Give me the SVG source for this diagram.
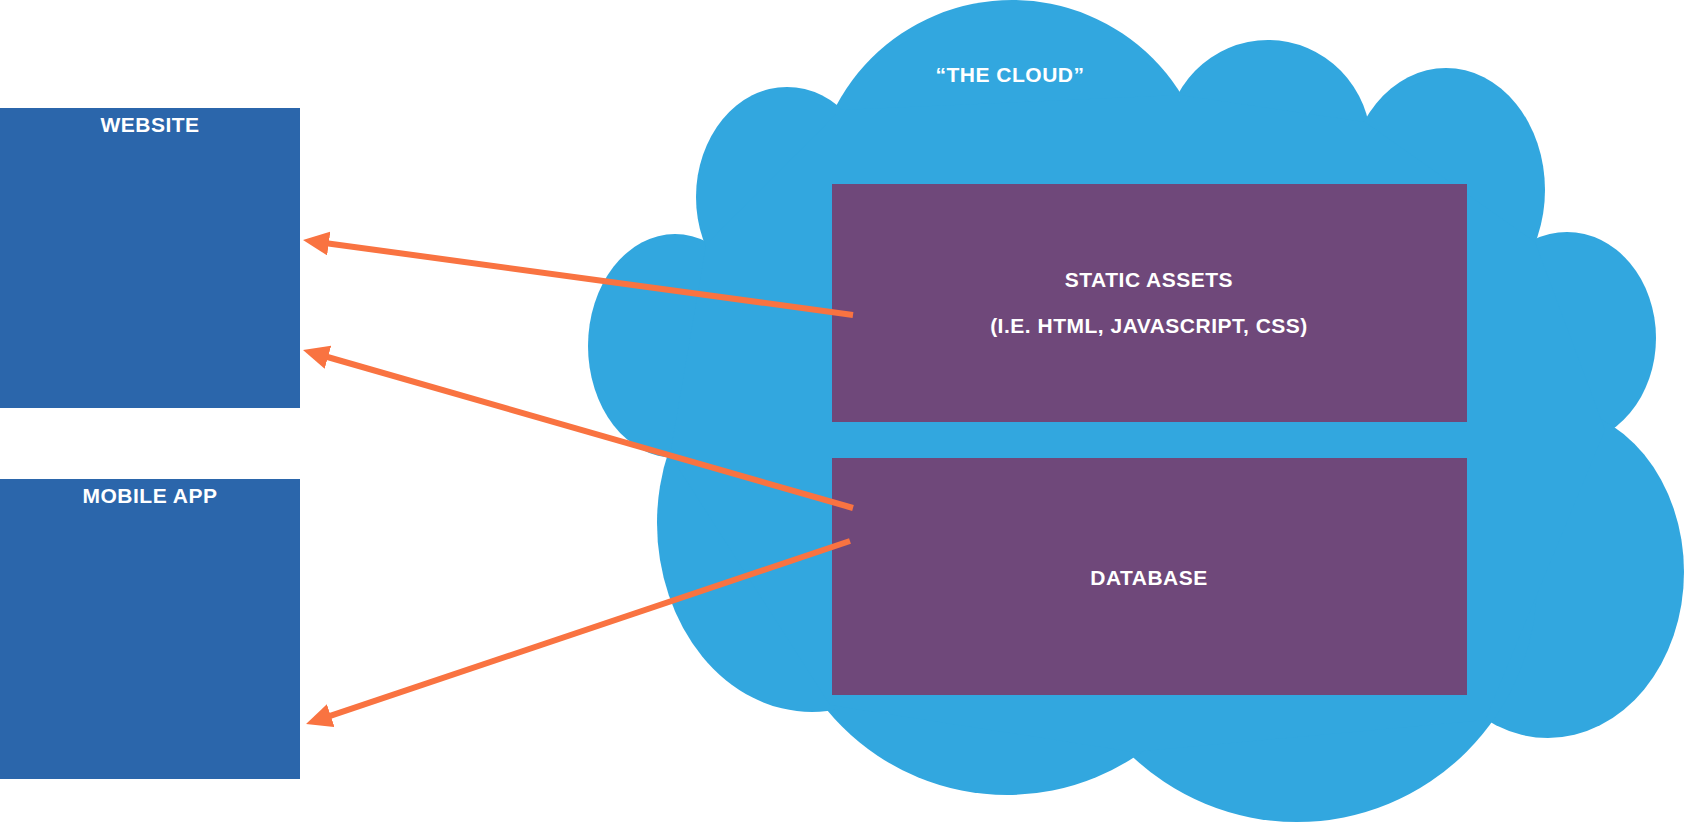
<svg xmlns="http://www.w3.org/2000/svg" width="1685" height="822" viewBox="0 0 1685 822">
<style>
.cloud{fill:#32A7DF}
.client{fill:#2B66AB}
.store{fill:#6F487A}
.lbl{font-family:"Liberation Sans",Arial,sans-serif;font-weight:bold;font-size:21px;letter-spacing:0.5px;fill:#FFFFFF;text-anchor:middle}
.conn{stroke:#F97341;stroke-width:6;fill:none;marker-end:url(#ah)}
</style>
<defs>
<marker id="ah" markerUnits="userSpaceOnUse" markerWidth="26" markerHeight="24" refX="6" refY="12" orient="auto">
<path d="M0,0 L26,12 L0,24 z" fill="#F97341"/>
</marker>
</defs>
<rect width="1685" height="822" fill="#FFFFFF"/>
<g id="cloud">
<circle class="cloud" cx="1012" cy="199" r="199"/>
<ellipse class="cloud" cx="1268" cy="145" rx="103" ry="105"/>
<ellipse class="cloud" cx="1446" cy="190" rx="99" ry="122"/>
<ellipse class="cloud" cx="1567" cy="338" rx="89" ry="106"/>
<ellipse class="cloud" cx="1548" cy="572" rx="136" ry="166"/>
<circle class="cloud" cx="1297" cy="582" r="240"/>
<circle class="cloud" cx="1007" cy="562" r="233"/>
<ellipse class="cloud" cx="812" cy="523" rx="155" ry="189"/>
<ellipse class="cloud" cx="675" cy="346" rx="87" ry="112"/>
<ellipse class="cloud" cx="787" cy="197" rx="91" ry="110"/>
<polygon class="cloud" points="840,110 1180,95 1365,122 1535,242 1605,430 1485,720 1133,752 830,705 670,455 706,245"/>
<text class="lbl" x="1010" y="82">“THE CLOUD”</text>
</g>
<g id="static-assets">
<rect class="store" x="832" y="184" width="635" height="238"/>
<text class="lbl" x="1149" y="287">STATIC ASSETS</text>
<text class="lbl" x="1149" y="333">(I.E. HTML, JAVASCRIPT, CSS)</text>
</g>
<g id="database">
<rect class="store" x="832" y="458" width="635" height="237"/>
<text class="lbl" x="1149" y="585">DATABASE</text>
</g>
<g id="website">
<rect class="client" x="0" y="108" width="300" height="300"/>
<text class="lbl" x="150" y="132">WEBSITE</text>
</g>
<g id="mobile-app">
<rect class="client" x="0" y="479" width="300" height="300"/>
<text class="lbl" x="150" y="503">MOBILE APP</text>
</g>
<g id="connectors">
<line class="conn" x1="853" y1="315" x2="322.8" y2="242.7"/>
<line class="conn" x1="853" y1="508" x2="322.2" y2="355.5"/>
<line class="conn" x1="850" y1="541" x2="325" y2="717.6"/>
</g>
</svg>
